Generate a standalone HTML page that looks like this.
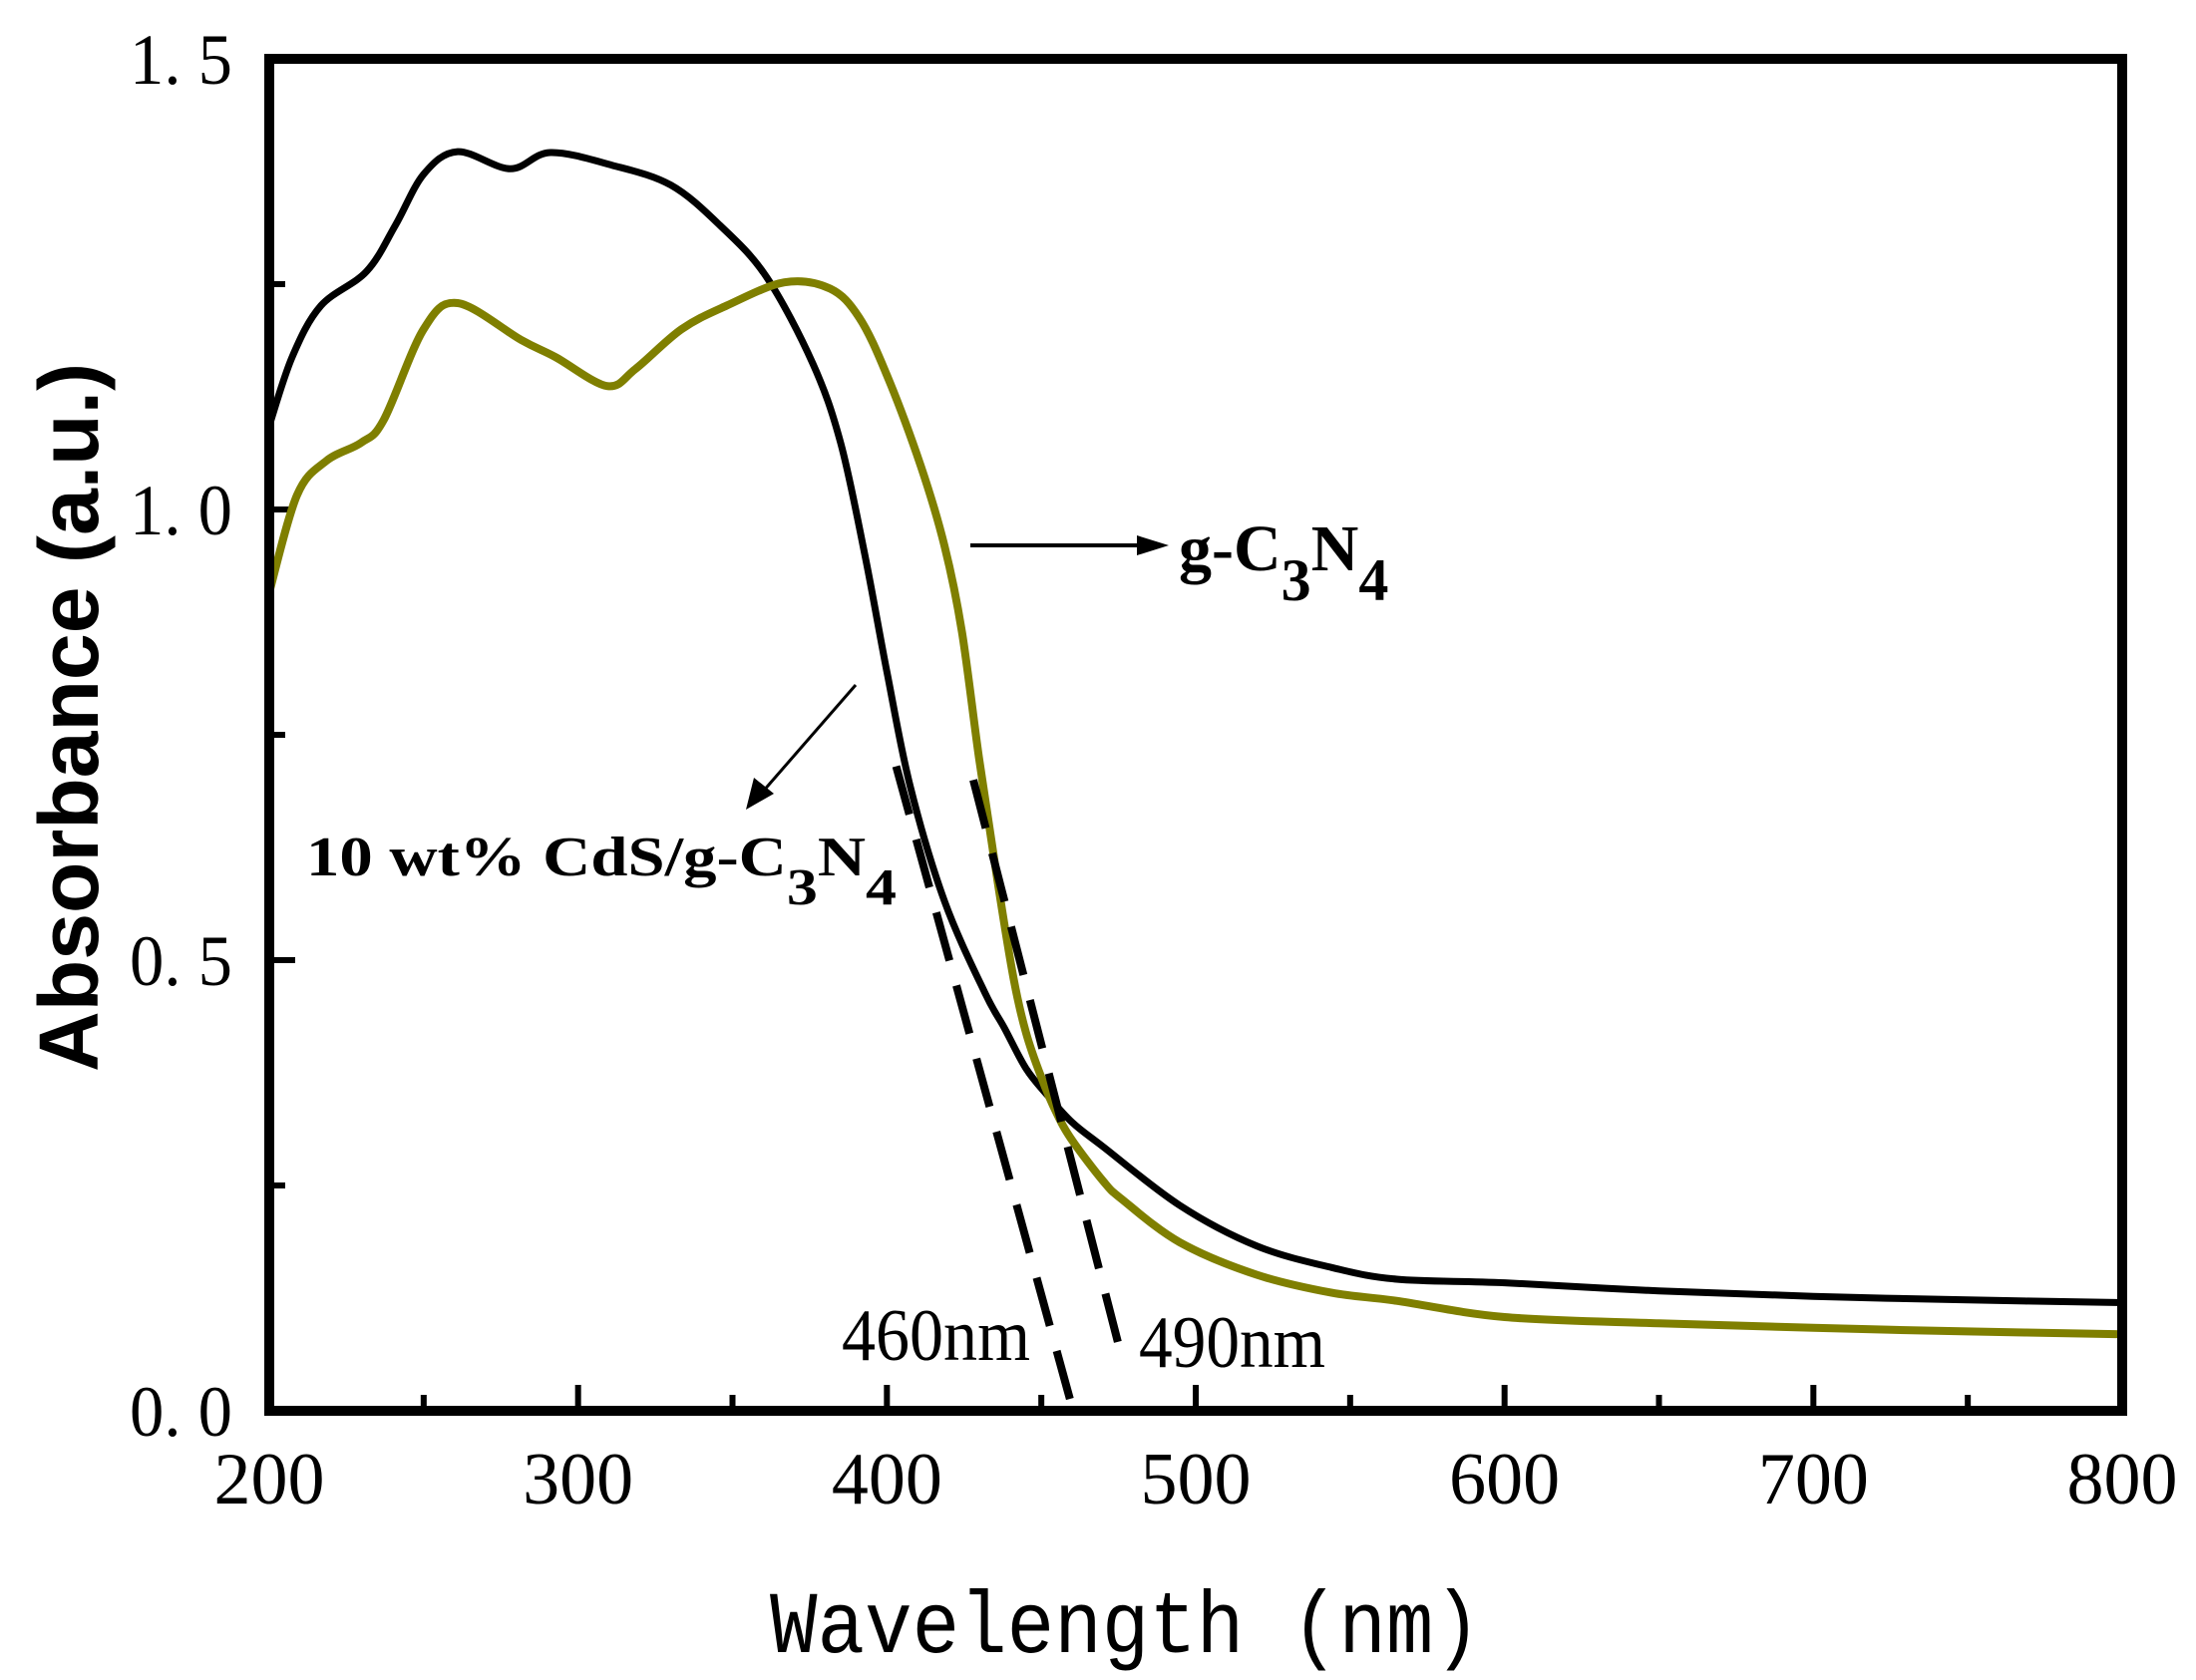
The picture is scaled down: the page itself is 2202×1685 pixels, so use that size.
<!DOCTYPE html>
<html><head><meta charset="utf-8"><style>
html,body{margin:0;padding:0;background:#fff;}
svg{display:block;}
</style></head><body>
<svg id="chart" width="2202" height="1685" viewBox="0 0 2202 1685" xmlns="http://www.w3.org/2000/svg">
<rect width="2202" height="1685" fill="#fff"/>
<g id="ticks"></g>
<g id="series"></g>
<g id="labels"></g>
<rect x="270" y="59" width="1858" height="1356" fill="none" stroke="#000" stroke-width="10"/>
<text x="772" y="1657" font-family="Liberation Mono, monospace" font-size="88" textLength="713" lengthAdjust="spacingAndGlyphs">Wavelength (nm)</text>
<text transform="translate(98,1075) rotate(-90)" font-family="Liberation Sans, sans-serif" font-weight="bold" font-size="84" textLength="711" lengthAdjust="spacingAndGlyphs">Absorbance (a.u.)</text>
<g>
<line x1="973" y1="547" x2="1145" y2="547" stroke="#000" stroke-width="4"/>
<polygon points="1172,547 1140,537 1140,557" fill="#000"/>
<text x="1182" y="572" font-family="Liberation Serif, serif" font-weight="bold" font-size="66">g-C<tspan font-size="60" dy="30">3</tspan><tspan dy="-30">N</tspan><tspan font-size="60" dy="30">4</tspan></text>
</g>
<g>
<line x1="858" y1="687" x2="764" y2="795" stroke="#000" stroke-width="3"/>
<polygon points="748,812 756,780 776,796" fill="#000"/>
<text x="307" y="878" font-family="Liberation Serif, serif" font-weight="bold" font-size="56" textLength="592" lengthAdjust="spacingAndGlyphs">10 wt% CdS/g-C<tspan font-size="52" dy="29">3</tspan><tspan dy="-29">N</tspan><tspan font-size="52" dy="29">4</tspan></text>
</g>
<text x="844" y="1364" font-family="Liberation Serif, serif" font-size="74" textLength="189" lengthAdjust="spacingAndGlyphs">460nm</text>
<text x="1142" y="1371" font-family="Liberation Serif, serif" font-size="74" textLength="187" lengthAdjust="spacingAndGlyphs">490nm</text>
</svg>
<script>
const wlBlack = [200,207.4,216.7,231.5,240.8,250,261,278,291,311,330,346,361,376,385,393,400,407.6,418.7,431.7,438,445,452,460,470,494.8,519.7,544,565,600,650,700,750,800];
const absBlack = [1.093,1.169,1.226,1.264,1.315,1.372,1.397,1.378,1.396,1.382,1.36,1.315,1.258,1.162,1.074,0.947,0.82,0.692,0.565,0.464,0.425,0.38,0.35,0.32,0.293,0.228,0.183,0.159,0.146,0.142,0.133,0.127,0.123,0.12];
const wlOlive = [200,209,218.5,229.7,237,250,261,281.6,292.7,309.4,318.6,333.5,348,366.8,381.6,391,400,411,418.7,424.3,429.8,435.4,441,445,450,455,460,470,476,494.8,519.7,544,565,600,650,700,750,800];
const absOlive = [0.908,1.016,1.054,1.074,1.099,1.20,1.229,1.188,1.169,1.137,1.156,1.20,1.226,1.252,1.245,1.213,1.149,1.048,0.959,0.864,0.725,0.597,0.48,0.42,0.37,0.33,0.30,0.255,0.235,0.187,0.151,0.131,0.122,0.104,0.097,0.092,0.088,0.085];
const tangent1Wl = [403,460];
const tangent1Abs = [0.715,0.004];
const tangent2Wl = [428,476];
const tangent2Abs = [0.70,0.06];
const xTicks = [200,300,400,500,600,700,800];
const xMinor = [250,350,450,550,650,750];
const yTicks = [0,0.5,1.0,1.5];
const yTickLabels = ["0. 0","0. 5","1. 0","1. 5"];
const yMinor = [0.25,0.75,1.25];

const X0=270,X1=2128,Y0=1415,Y1=59;
function xs(w){return X0+(w-200)/600*(X1-X0);}
function ys(v){return Y0-(v-0)/1.5*(Y0-Y1);}
const NS='http://www.w3.org/2000/svg';
function mk(tag,attrs,parent){const e=document.createElementNS(NS,tag);for(const k in attrs)e.setAttribute(k,attrs[k]);parent.appendChild(e);return e;}
const tg=document.getElementById('ticks'),sg=document.getElementById('series'),lg=document.getElementById('labels');

xTicks.forEach(t=>{const l=mk('line',{x1:xs(t),x2:xs(t),y1:Y0,y2:Y0-26,stroke:'#000','stroke-width':6},tg);


const tx=mk('text',{x:xs(t),y:1508,'text-anchor':'middle','font-family':'Liberation Serif, serif','font-size':74},lg);


tx.textContent=t;});
xMinor.forEach(t=>{const l=mk('line',{x1:xs(t),x2:xs(t),y1:Y0,y2:Y0-16,stroke:'#000','stroke-width':6},tg);

});
yTicks.forEach((t,i)=>{const l=mk('line',{x1:X0,x2:X0+26,y1:ys(t),y2:ys(t),stroke:'#000','stroke-width':6},tg);


const tx=mk('text',{x:130,y:ys(t)+25,'font-family':'Liberation Serif, serif','font-size':72,textLength:103,lengthAdjust:'spacingAndGlyphs'},lg);


tx.textContent=yTickLabels[i];});
yMinor.forEach(t=>{const l=mk('line',{x1:X0,x2:X0+16,y1:ys(t),y2:ys(t),stroke:'#000','stroke-width':6},tg);

});

function smoothD(w,a){
  const p=w.map((v,i)=>[xs(v),ys(a[i])]);
  let d='M'+p[0][0].toFixed(1)+','+p[0][1].toFixed(1);
  for(let i=0;i<p.length-1;i++){
    const p0=p[Math.max(i-1,0)],p1=p[i],p2=p[i+1],p3=p[Math.min(i+2,p.length-1)];
    const c1=[p1[0]+(p2[0]-p0[0])/6,p1[1]+(p2[1]-p0[1])/6];
    const c2=[p2[0]-(p3[0]-p1[0])/6,p2[1]-(p3[1]-p1[1])/6];
    d+=' C'+c1[0].toFixed(1)+','+c1[1].toFixed(1)+' '+c2[0].toFixed(1)+','+c2[1].toFixed(1)+' '+p2[0].toFixed(1)+','+p2[1].toFixed(1);
  }
  return d;
}
function lineD(w,a){return w.map((v,i)=>(i?'L':'M')+xs(v).toFixed(1)+','+ys(a[i]).toFixed(1)).join(' ');}
const pb=mk('path',{d:smoothD(wlBlack,absBlack),fill:'none',stroke:'#000','stroke-width':7,'stroke-linejoin':'round'},sg);


const po=mk('path',{d:smoothD(wlOlive,absOlive),fill:'none',stroke:'#7f7f00','stroke-width':8,'stroke-linejoin':'round'},sg);


const d1=mk('path',{d:lineD(tangent1Wl,tangent1Abs),fill:'none',stroke:'#000','stroke-width':8,'stroke-dasharray':'50 26'},sg);


const d2=mk('path',{d:lineD(tangent2Wl,tangent2Abs),fill:'none',stroke:'#000','stroke-width':8,'stroke-dasharray':'50 26'},sg);


</script>
</body></html>
